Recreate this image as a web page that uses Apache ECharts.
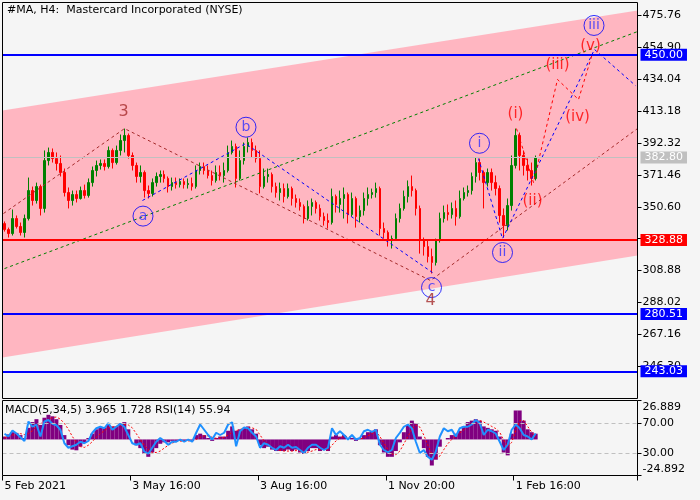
<!DOCTYPE html>
<html>
<head>
<meta charset="utf-8">
<title>#MA, H4</title>
<script src="https://cdn.jsdelivr.net/npm/echarts@6/dist/echarts.min.js"></script>
<style>
  html, body { margin: 0; padding: 0; background: #f5f5f5; }
  #chart { width: 700px; height: 500px; }
</style>
</head>
<body>
<div id="chart"></div>
<script>
// --- data ---
const slotCount = 159
const tickStep = 32
const tickLabels = ['5 Feb 2021', '3 May 16:00', '3 Aug 16:00', '1 Nov 20:00', '1 Feb 16:00']
const priceTicks = [475.76, 454.90, 434.04, 413.18, 392.32, 371.46, 350.60, 329.74, 308.88, 288.02, 267.16, 246.30]
const levelPrices = [450.00, 328.88, 280.51, 243.03]
const lastPrice = 382.80
const macdRange = [-24.892, 26.889]
const rsiLevels = [70, 30]

const openPrices = [339.6, 335.7, 333.1, 342.9, 337.7, 333.8, 342.9, 361.2, 354.7, 363.8,
  349.5, 380.8, 386.1, 382.1, 378.9, 373.0, 359.9, 354.7, 358.6, 356.0,
  361.2, 358.0, 366.4, 374.3, 377.6, 378.9, 376.9, 387.4, 379.5, 387.4,
  393.9, 397.2, 384.1, 377.6, 370.4, 373.0, 361.2, 359.3, 366.4, 370.4,
  371.7, 369.1, 363.8, 366.4, 365.1, 367.1, 365.1, 365.8, 363.8, 374.3,
  376.9, 374.3, 371.0, 367.8, 373.0, 371.0, 374.3, 386.1, 390.0, 369.1,
  380.8, 390.0, 392.6, 387.4, 382.1, 363.8, 370.4, 371.7, 363.8, 359.9,
  362.5, 357.3, 362.5, 356.0, 353.4, 350.8, 342.9, 350.8, 353.4, 349.5,
  344.2, 341.6, 340.3, 357.3, 352.1, 356.0, 358.6, 345.5, 356.0, 344.2,
  348.1, 356.0, 358.6, 359.9, 362.5, 336.4, 333.8, 328.5, 329.8, 342.9,
  349.5, 357.3, 363.8, 361.2, 349.5, 328.5, 324.6, 318.1, 314.2, 328.5,
  342.9, 346.8, 345.5, 349.5, 344.2, 356.0, 359.9, 361.2, 370.4, 379.5,
  373.0, 366.4, 373.0, 366.4, 362.5, 344.9, 338.3, 351.4, 377.6, 397.2,
  384.1, 377.6, 374.3, 369.1]
const closePrices = [335.7, 333.1, 342.9, 337.7, 333.8, 342.9, 361.2, 354.7, 363.8, 349.5,
  380.8, 386.1, 382.1, 378.9, 373.0, 359.9, 354.7, 358.6, 356.0, 361.2,
  358.0, 366.4, 374.3, 377.6, 378.9, 376.9, 387.4, 379.5, 387.4, 393.9,
  397.2, 384.1, 377.6, 370.4, 373.0, 361.2, 359.3, 366.4, 370.4, 371.7,
  369.1, 363.8, 366.4, 365.1, 367.1, 365.1, 365.8, 363.8, 374.3, 376.9,
  374.3, 371.0, 367.8, 373.0, 371.0, 374.3, 386.1, 390.0, 369.1, 380.8,
  390.0, 392.6, 387.4, 382.1, 363.8, 370.4, 371.7, 363.8, 359.9, 362.5,
  357.3, 362.5, 356.0, 353.4, 350.8, 342.9, 350.8, 353.4, 349.5, 344.2,
  341.6, 340.3, 357.3, 352.1, 356.0, 358.6, 345.5, 356.0, 344.2, 348.1,
  356.0, 358.6, 359.9, 362.5, 336.4, 333.8, 328.5, 329.8, 342.9, 349.5,
  357.3, 363.8, 361.2, 349.5, 328.5, 324.6, 318.1, 314.2, 328.5, 342.9,
  346.8, 345.5, 349.5, 344.2, 356.0, 359.9, 361.2, 370.4, 379.5, 373.0,
  366.4, 373.0, 366.4, 362.5, 344.9, 338.3, 351.4, 377.6, 397.2, 384.1,
  377.6, 374.3, 369.1, 382.8]
const highPrices = [341.0, 337.0, 348.8, 344.9, 340.3, 345.5, 369.7, 363.8, 366.4, 365.1,
  387.4, 389.3, 388.7, 386.1, 384.1, 375.6, 363.2, 361.2, 361.2, 363.8,
  365.1, 369.1, 376.9, 380.8, 381.5, 381.5, 390.0, 388.7, 390.6, 397.8,
  401.7, 398.5, 386.1, 379.5, 377.6, 374.3, 364.5, 369.1, 373.0, 374.3,
  374.3, 370.4, 369.7, 369.7, 369.1, 369.1, 369.1, 369.7, 377.6, 379.5,
  379.5, 377.6, 374.3, 377.6, 377.6, 379.5, 390.6, 393.9, 391.9, 387.4,
  392.6, 395.9, 395.2, 390.6, 387.4, 375.6, 375.6, 373.0, 366.4, 366.4,
  365.8, 365.8, 363.8, 358.6, 356.0, 352.1, 354.7, 356.0, 354.7, 352.1,
  346.8, 346.2, 362.5, 358.6, 361.2, 363.2, 359.9, 359.9, 357.3, 351.4,
  359.9, 363.2, 362.5, 366.4, 363.8, 340.3, 335.1, 331.8, 346.2, 352.7,
  361.2, 367.8, 371.0, 362.5, 351.4, 330.5, 328.5, 323.3, 329.8, 346.8,
  351.4, 352.1, 353.4, 354.7, 361.2, 363.2, 364.5, 373.0, 382.8, 382.1,
  374.3, 375.6, 375.6, 371.0, 364.5, 349.5, 356.0, 384.1, 401.7, 399.1,
  387.4, 382.1, 379.5, 384.1]
const lowPrices = [334.4, 330.5, 331.8, 336.4, 331.8, 330.5, 341.6, 351.4, 352.7, 344.9,
  346.8, 377.6, 379.5, 374.3, 370.4, 357.3, 349.5, 351.4, 353.4, 355.3,
  356.0, 356.6, 363.8, 370.4, 374.9, 374.3, 375.6, 375.6, 378.2, 384.1,
  386.1, 382.1, 374.3, 366.4, 366.4, 356.6, 356.0, 357.3, 363.8, 366.4,
  366.4, 359.9, 361.2, 362.5, 363.2, 362.5, 362.5, 361.2, 362.5, 371.7,
  371.7, 369.1, 364.5, 366.4, 367.8, 366.4, 373.0, 384.8, 363.2, 367.8,
  378.2, 386.1, 382.8, 379.5, 359.3, 362.5, 366.4, 359.9, 356.6, 354.7,
  353.4, 356.0, 351.4, 350.1, 348.1, 339.7, 341.6, 344.9, 346.2, 341.6,
  338.3, 336.4, 339.0, 346.8, 346.8, 342.9, 339.7, 344.2, 337.0, 340.3,
  344.9, 351.4, 356.0, 356.6, 331.8, 329.8, 324.6, 323.3, 328.5, 340.3,
  348.1, 353.4, 357.3, 344.9, 320.0, 318.7, 314.2, 307.0, 312.2, 327.2,
  340.3, 341.6, 342.9, 338.3, 342.9, 354.7, 357.3, 358.6, 366.4, 367.8,
  349.5, 363.8, 361.2, 358.0, 340.3, 330.5, 335.1, 348.1, 375.6, 374.3,
  371.0, 367.8, 364.5, 367.8]

const macdMain = [2.0, 3.5, 5.0, 4.5, 3.0, 1.0, 8.0, 12.0, 14.0, 10.0,
  15.0, 17.0, 16.0, 14.0, 10.0, 3.0, -4.0, -7.0, -7.5, -5.0,
  -2.0, 1.0, 4.0, 7.0, 8.0, 8.0, 10.0, 9.0, 9.0, 11.0,
  12.0, 7.0, 0.0, -4.0, -6.0, -10.0, -12.0, -9.0, -6.0, -3.0,
  -2.0, -2.0, -1.0, -1.0, -1.0, -1.0, -0.5, -1.0, 3.0, 4.0,
  3.0, 1.0, -1.0, 1.0, 2.0, 2.0, 6.0, 9.0, 6.0, 7.0,
  8.0, 9.0, 7.0, 4.0, -4.0, -6.0, -5.0, -7.0, -8.0, -8.0,
  -8.0, -7.0, -8.0, -7.0, -9.0, -10.0, -8.0, -6.0, -6.0, -8.0,
  -7.0, -8.0, 2.0, 3.0, 2.0, 3.0, 0.0, 1.0, -1.0, 1.0,
  3.0, 5.0, 6.0, 7.0, -4.0, -9.0, -12.0, -12.0, -8.0, -2.0,
  5.0, 10.0, 13.0, 11.0, 2.0, -6.0, -12.0, -18.0, -14.0, -5.0,
  0.0, 1.0, 3.0, 4.0, 6.0, 9.0, 12.0, 13.0, 14.0, 13.0,
  9.0, 8.0, 7.0, 6.0, 2.0, -9.0, -11.0, 4.0, 20.0, 20.0,
  13.0, 7.0, 5.0, 3.965]
const macdSignal = [1.0, 2.0, 3.0, 3.8, 4.0, 3.4, 4.0, 6.0, 9.0, 11.0,
  12.0, 14.0, 15.0, 15.5, 14.0, 11.0, 7.0, 2.0, -2.0, -5.0,
  -5.5, -4.0, -1.5, 1.5, 4.0, 6.0, 8.0, 8.5, 9.0, 9.5,
  10.5, 10.0, 8.0, 4.0, 0.0, -4.0, -7.0, -9.0, -9.0, -8.0,
  -6.0, -4.0, -2.5, -1.5, -1.2, -1.0, -1.0, -0.9, 0.0, 1.5,
  2.5, 2.5, 1.5, 0.8, 0.8, 1.5, 3.0, 5.0, 6.0, 7.0,
  7.5, 8.0, 8.0, 7.0, 3.0, -1.0, -3.5, -5.5, -7.0, -7.5,
  -8.0, -8.0, -8.0, -7.7, -8.0, -8.6, -8.8, -8.0, -7.0, -7.0,
  -7.0, -7.2, -4.0, -1.0, 1.0, 2.2, 2.0, 1.5, 0.8, 0.4,
  1.0, 2.5, 4.0, 5.5, 2.0, -2.5, -7.0, -10.0, -10.5, -8.0,
  -3.0, 2.0, 7.0, 10.0, 8.5, 3.0, -4.0, -10.0, -13.0, -11.5,
  -7.0, -3.0, 0.0, 2.5, 4.5, 6.5, 9.0, 11.0, 12.5, 13.0,
  12.0, 10.5, 9.0, 7.5, 5.0, -0.5, -5.0, -2.0, 6.0, 13.0,
  13.0, 9.0, 5.0, 1.728]
const rsiValues = [55.7, 52, 60, 56, 51, 46, 72, 65, 68, 52,
  72, 74, 69, 67, 61, 43, 37, 39, 41, 45,
  43, 46, 57, 63, 65, 63, 70, 61, 65, 69,
  65, 54, 43, 41, 43, 32, 29, 37, 45, 50,
  46, 41, 45, 45, 48, 45, 48, 45, 57, 68,
  61, 54, 48, 57, 54, 57, 68, 71, 39, 59,
  64, 63, 57, 52, 37, 43, 41, 37, 34, 39,
  37, 41, 37, 38, 34, 30, 37, 41, 41, 37,
  34, 37, 63, 54, 59, 54, 48, 54, 48, 50,
  59, 61, 58, 61, 41, 34, 31, 34, 50, 57,
  65, 68, 63, 45, 30, 34, 25, 21, 32, 52,
  63, 59, 61, 52, 63, 65, 65, 68, 74, 70,
  54, 61, 59, 56, 45, 34, 41, 61, 68, 63,
  54, 52, 48, 55.94]

// channel and wave drawings, [bar index, price]
const channelTop = [[-0.5, 413.5], [158.5, 478.9]]
const channelBottom = [[-0.5, 252.1], [158.5, 318.7]]
const greenLine = [[0.0, 310.2], [158.5, 465.1]]
const brownPath = [[-0.25, 346.2], [30.05, 401.7], [106.67, 302.4], [158.5, 401.7]]
const bluePathAbc = [[34.55, 354.7], [60.35, 391.9], [107.17, 307.6]]
const bluePathImp = [[118.69, 382.1], [124.7, 329.8], [147.73, 453.4], [158.0, 429.8]]
const redPath = [[128.2, 401.7], [132.46, 366.4], [138.47, 433.8], [143.73, 420.7], [147.23, 450.8]]
const circledLabels = [['a', 34.68, 344.5], ['b', 60.47, 402.6], ['c', 106.92, 297.8],
  ['i', 118.94, 392.1], ['ii', 124.7, 320.7], ['iii', 147.61, 469.1]]
const brownLabels = [['3', 29.8, 412.9], ['4', 106.67, 289.3]]
const redLabels = [['(i)', 127.95, 410.9], ['(ii)', 132.21, 354.0], ['(iii)', 138.47, 442.9],
  ['(iv)', 143.48, 408.9], ['(v)', 146.73, 455.3]]

// --- layout / styles ---
const FONT = 'DejaVu Sans'
const main = { left: 2.5, top: 2.5, width: 635, height: 396 }
const sub = { left: 2.5, top: 400.5, width: 635, height: 75 }
const levelColors = ['#0000ff', '#ff0000', '#0000ff', '#0000ff']

const categories = []
for (let i = 0; i < slotCount; i++) categories.push(String(i))
const candles = openPrices.map((o, i) => [o, closePrices[i], lowPrices[i], highPrices[i]])

const txt = (size, color) => ({ fontFamily: FONT, fontSize: size, color: color, fontWeight: 'normal' })
const noLine = { show: false, onZero: false }

const pathSeries = (data, color) => ({
  type: 'line', xAxisIndex: 1, yAxisIndex: 0, data: data, z: 4,
  showSymbol: false, silent: true, animation: false,
  lineStyle: { color: color, width: 1, type: [3, 3] }
})

const labelSeries = (list, color, size, circled) => ({
  type: 'scatter', xAxisIndex: 1, yAxisIndex: 0, z: 6, silent: true,
  symbol: 'circle', symbolSize: circled ? 20 : 2,
  itemStyle: { color: 'transparent', borderColor: circled ? '#0000ff' : 'transparent', borderWidth: 1 },
  label: { show: true, position: 'inside', formatter: p => p.data[2], ...txt(size, color) },
  data: list.map(l => [l[1], l[2], l[0]])
})

const levelLines = levelPrices.map((v, i) => ({
  yAxis: v,
  lineStyle: { color: levelColors[i], width: 2, type: 'solid' },
  label: { backgroundColor: levelColors[i] }
}))
levelLines.push({
  yAxis: lastPrice,
  lineStyle: { color: '#c0c0c0', width: 1, type: 'solid' },
  label: { backgroundColor: '#c0c0c0' }
})

const chart = echarts.init(document.getElementById('chart'))
chart.setOption({
  animation: false,
  backgroundColor: '#f5f5f5',
  title: [
    { text: '#MA, H4:  Mastercard Incorporated (NYSE)', left: 7, top: 5, padding: 0, textStyle: txt(11, '#000') },
    { text: 'MACD(5,34,5) 3.965 1.728 RSI(14) 55.94', left: 5, top: 405, padding: 0, textStyle: txt(11, '#000') }
  ],
  grid: [
    { ...main, outerBoundsMode: 'none' },
    { ...sub, outerBoundsMode: 'none' }
  ],
  xAxis: [
    { type: 'category', gridIndex: 0, data: categories, boundaryGap: true,
      axisLine: noLine, axisTick: { show: false }, axisLabel: { show: false } },
    { type: 'value', gridIndex: 0, min: -0.5, max: slotCount - 0.5, show: false,
      axisLine: noLine, splitLine: { show: false } },
    { type: 'category', gridIndex: 1, data: categories, boundaryGap: true,
      axisLine: noLine,
      axisTick: { show: true, interval: tickStep - 1, length: 5, lineStyle: { color: '#000' } },
      axisLabel: { interval: tickStep - 1, align: 'left', margin: 5, ...txt(11, '#000'),
        formatter: (v, idx) => tickLabels[idx / tickStep] || '' } }
  ],
  yAxis: [
    { type: 'value', gridIndex: 0, position: 'right', min: 225.3, max: 484.1,
      splitLine: { show: false }, axisLine: noLine,
      axisTick: { show: true, length: 4, customValues: priceTicks, lineStyle: { color: '#000' } },
      axisLabel: { customValues: priceTicks, margin: 5, formatter: v => v.toFixed(2), ...txt(11, '#000') } },
    { type: 'value', gridIndex: 1, position: 'right', min: macdRange[0], max: macdRange[1],
      splitLine: { show: false }, axisLine: noLine,
      axisTick: { show: true, length: 4, customValues: macdRange, lineStyle: { color: '#000' } },
      axisLabel: { customValues: macdRange, margin: 5, ...txt(11, '#000'),
        formatter: v => (v > 0 ? '{t|' : '{b|') + v.toFixed(3) + '}',
        rich: {
          t: { ...txt(11, '#000'), padding: [13, 0, 0, 0] },
          b: { ...txt(11, '#000'), padding: [0, 0, 12, 0] }
        } } },
    { type: 'value', gridIndex: 1, position: 'right', min: 0, max: 100,
      splitLine: { show: false }, axisLine: noLine,
      axisTick: { show: true, length: 4, customValues: rsiLevels, lineStyle: { color: '#000' } },
      axisLabel: { customValues: rsiLevels, margin: 5, formatter: v => v.toFixed(2), ...txt(11, '#000') } }
  ],
  series: [
    {
      type: 'custom', xAxisIndex: 1, yAxisIndex: 0, z: 1, silent: true, clip: true,
      data: [[0, 0]],
      renderItem: (params, api) => ({
        type: 'polygon',
        shape: { points: [channelTop[0], channelTop[1], channelBottom[1], channelBottom[0]].map(p => api.coord(p)) },
        style: { fill: '#ffb6c1' }
      })
    },
    {
      type: 'candlestick', xAxisIndex: 0, yAxisIndex: 0, z: 3, barWidth: 2,
      data: candles,
      itemStyle: { color: '#008000', color0: '#ff0000', borderColor: '#008000', borderColor0: '#ff0000', borderWidth: 1 },
      markLine: {
        silent: true, symbol: 'none', z: 5,
        label: { show: true, position: 'end', distance: 3, formatter: p => p.value.toFixed(2),
          ...txt(11, '#ffffff'), lineHeight: 11, padding: [1, 4, 0, 4] },
        data: levelLines
      }
    },
    pathSeries(greenLine, '#008000'),
    pathSeries(brownPath, '#a52a2a'),
    pathSeries(bluePathAbc, '#0000ff'),
    pathSeries(bluePathImp, '#0000ff'),
    pathSeries(redPath, '#ff0000'),
    labelSeries(circledLabels, '#3030ff', 14, true),
    labelSeries(brownLabels, '#a52a2a', 16, false),
    labelSeries(redLabels, '#ff0000', 15, false),
    {
      type: 'bar', xAxisIndex: 2, yAxisIndex: 1, data: macdMain, barCategoryGap: '0%',
      itemStyle: { color: '#800080' }, silent: true, z: 2
    },
    {
      type: 'line', xAxisIndex: 2, yAxisIndex: 1, data: macdSignal, showSymbol: false, z: 3, silent: true,
      lineStyle: { color: '#ff0000', width: 1, type: [2, 2] }
    },
    {
      type: 'line', xAxisIndex: 2, yAxisIndex: 2, data: rsiValues, showSymbol: false, z: 4, silent: true,
      lineStyle: { color: '#1e90ff', width: 2 },
      markLine: {
        silent: true, symbol: 'none', label: { show: false },
        lineStyle: { color: '#c0c0c0', width: 1, type: [4, 3] },
        data: rsiLevels.map(v => ({ yAxis: v }))
      }
    }
  ],
  graphic: [
    { type: 'rect', z: 100, silent: true, shape: { x: main.left, y: main.top, width: main.width, height: main.height },
      style: { fill: 'none', stroke: '#000', lineWidth: 1 } },
    { type: 'rect', z: 100, silent: true, shape: { x: sub.left, y: sub.top, width: sub.width, height: sub.height },
      style: { fill: 'none', stroke: '#000', lineWidth: 1 } }
  ]
})
</script>
</body>
</html>
